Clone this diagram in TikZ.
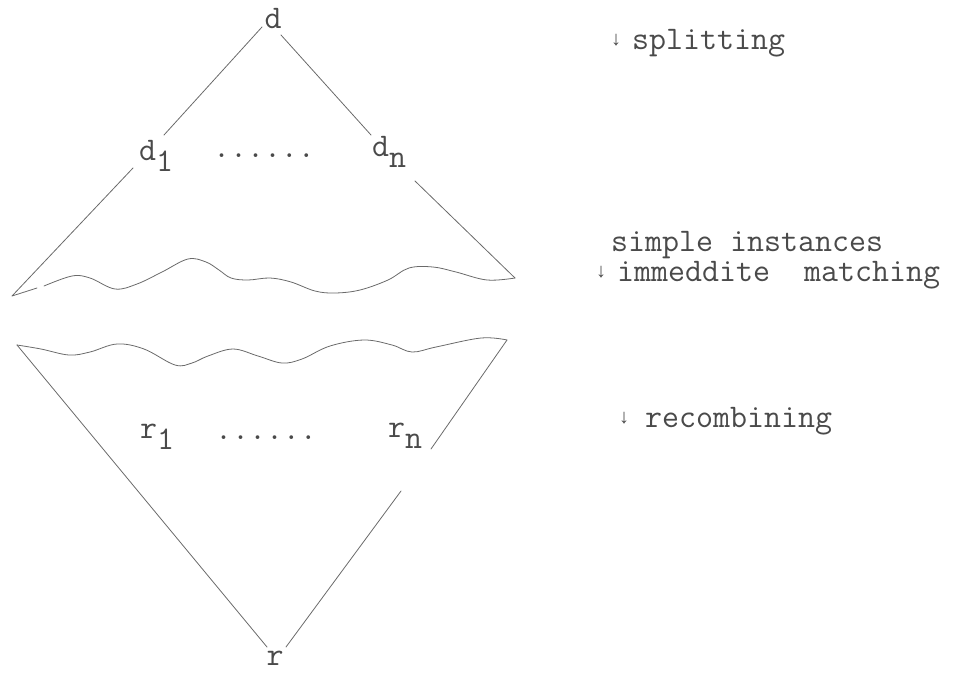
\documentclass[tikz,border=0pt]{standalone}
\usepackage{fontspec}
\newfontfamily\tw{Latin Modern Mono}
\newfontfamily\arrfont{Liberation Mono}
\definecolor{ink}{HTML}{4A4A4A}
\definecolor{lineink}{HTML}{6A6A6A}
\begin{document}
\begin{tikzpicture}[x=1pt,y=-1pt,
  txt/.style={font=\tw\fontsize{33}{35}\selectfont, text=ink, inner sep=0pt},
  arr/.style={font=\arrfont\fontsize{20}{22}\selectfont, text=ink, inner sep=0pt},
  edge/.style={draw=lineink, line width=0.8pt, line join=round, line cap=round}]
\useasboundingbox (0,0) rectangle (954,673);
% labels of the cones
\node[txt, anchor=base] (d) at (273,28) {d};
\node[txt, anchor=base west] (d1) at (139,160) {d\raisebox{-0.36em}{1}};
\node[txt, anchor=base] (ddots) at (264,157) {......};
\node[txt, anchor=base west] (dn) at (372,156) {d\raisebox{-0.36em}{n}};
\node[txt, anchor=base west] (r1) at (140,438) {r\raisebox{-0.36em}{1}};
\node[txt, anchor=base] (rdots) at (266,439) {......};
\node[txt, anchor=base west] (rn) at (388,437) {r\raisebox{-0.36em}{n}};
\node[txt, anchor=base] (r) at (275,665) {r};
% right-hand texts
\node[arr, anchor=base] (a1) at (616,45) {↓};
\node[txt, anchor=base west] (t1) at (632,49) {splitting};
\node[txt, anchor=base west] (t2) at (611,251) {simple instances};
\node[arr, anchor=base] (a2) at (601,277) {↓};
\node[txt, anchor=base west] (t3) at (617,281) {immeddite~~matching};
\node[arr, anchor=base] (a3) at (624,423) {↓};
\node[txt, anchor=base west] (t4) at (645,427) {recombining};
% key points
\coordinate (ulTip) at (12,296);
\coordinate (urTip) at (515,278);
\coordinate (llTip) at (17,345);
\coordinate (lrTip) at (507,340);
\coordinate (dL) at (262,27);
\coordinate (dR) at (281,35);
\coordinate (d1a) at (164,135);
\coordinate (d1b) at (133,168);
\coordinate (dna) at (371,135);
\coordinate (dnb) at (415,181);
\coordinate (rna) at (431,449);
\coordinate (rnb) at (401,491);
\coordinate (rL) at (267,647);
\coordinate (rR) at (286,647);
% upper cone
\draw[edge] (dL) -- (d1a);
\draw[edge] (d1b) -- (ulTip) -- (37,288);
\draw[edge] (dR) -- (dna);
\draw[edge] (dnb) -- (urTip);
\draw[edge] plot[smooth, tension=0.6] coordinates {(44,286) (72,276) (90,278) (115,289) (137,284) (162,272) (188,259) (206,262) (219,270) (231,278) (248,280) (270,278) (291,282) (315,291) (335,293) (360,290) (388,280) (409,268) (433,267) (456,272) (487,280) (515,278)};
% lower cone
\draw[edge] plot[smooth, tension=0.6] coordinates {(17,345) (41,349) (69,355) (90,352) (117,344) (144,349) (175,365) (192,363) (208,356) (233,349) (258,356) (282,363) (302,359) (330,346) (364,340) (392,345) (412,352) (436,347) (481,338) (507,340)};
\draw[edge] (llTip) -- (rL);
\draw[edge] (lrTip) -- (rna);
\draw[edge] (rnb) -- (rR);
\end{tikzpicture}
\end{document}
